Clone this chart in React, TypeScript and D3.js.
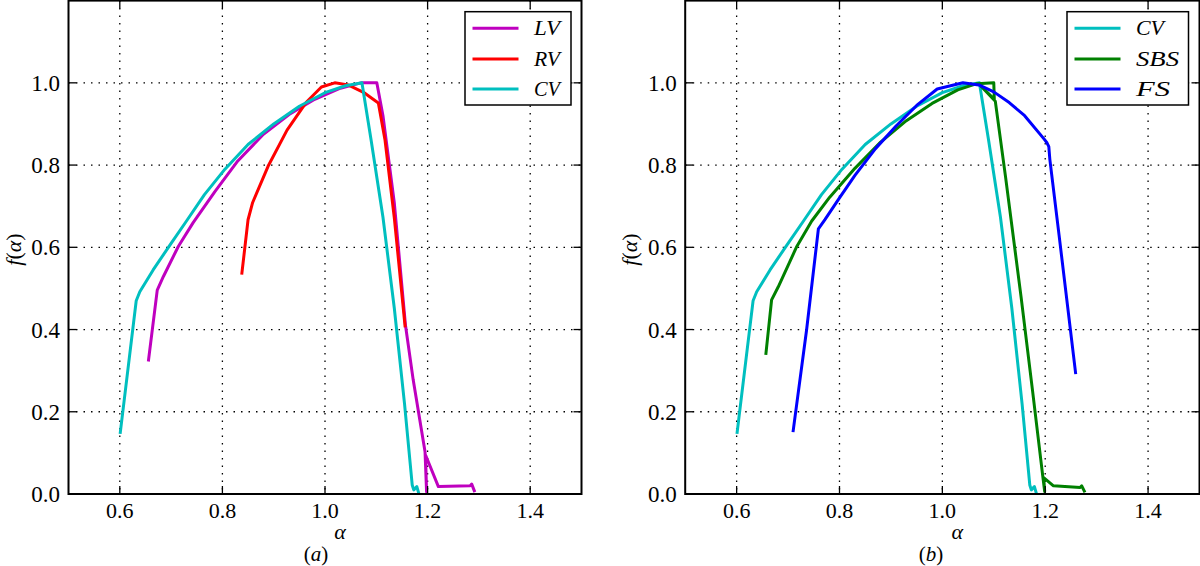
import React from 'react';
import * as d3 from 'd3';

// ---- tick definitions ----
const xTickValues = [0.6, 0.8, 1.0, 1.2, 1.4];
const xTickLabels = ['0.6', '0.8', '1.0', '1.2', '1.4'];
const yTickValues = [0.0, 0.2, 0.4, 0.6, 0.8, 1.0];
const yTickLabels = ['0.0', '0.2', '0.4', '0.6', '0.8', '1.0'];

// ---- series data (alpha, f(alpha)) ----
const cvAlpha = [0.601, 0.632, 0.639, 0.665, 0.698, 0.730, 0.765, 0.805, 0.850, 0.900, 0.950, 1.000, 1.040, 1.072, 1.090, 1.113, 1.135, 1.155, 1.170, 1.173, 1.179, 1.182];
const cvF = [0.150, 0.470, 0.492, 0.545, 0.606, 0.664, 0.728, 0.790, 0.850, 0.900, 0.943, 0.976, 0.993, 1.000, 0.860, 0.673, 0.453, 0.220, 0.022, 0.010, 0.018, 0.005];

const lvAlpha = [0.656, 0.673, 0.685, 0.714, 0.743, 0.785, 0.830, 0.880, 0.930, 0.980, 1.030, 1.070, 1.101, 1.113, 1.135, 1.157, 1.172, 1.195, 1.198, 1.196, 1.221, 1.283, 1.286, 1.291];
const lvF = [0.326, 0.496, 0.529, 0.602, 0.660, 0.735, 0.810, 0.875, 0.923, 0.960, 0.987, 1.000, 1.000, 0.920, 0.709, 0.409, 0.277, 0.103, 0.005, 0.095, 0.018, 0.020, 0.024, 0.008];

const rvAlpha = [0.838, 0.850, 0.859, 0.889, 0.926, 0.963, 0.993, 1.019, 1.045, 1.075, 1.104, 1.117, 1.135, 1.156];
const rvF = [0.537, 0.667, 0.709, 0.797, 0.885, 0.952, 0.990, 1.000, 0.995, 0.977, 0.951, 0.861, 0.673, 0.409];

const sbsAlpha = [0.657, 0.668, 0.681, 0.717, 0.746, 0.781, 0.830, 0.880, 0.930, 0.980, 1.030, 1.067, 1.100, 1.101, 1.072, 1.103, 1.123, 1.153, 1.175, 1.195, 1.199, 1.197, 1.216, 1.268, 1.271, 1.276];
const sbsF = [0.342, 0.472, 0.504, 0.602, 0.664, 0.722, 0.792, 0.856, 0.908, 0.950, 0.983, 0.998, 1.000, 0.960, 0.996, 0.955, 0.770, 0.480, 0.255, 0.046, 0.006, 0.040, 0.020, 0.016, 0.020, 0.007];

const fsAlpha = [0.710, 0.736, 0.759, 0.772, 0.800, 0.830, 0.870, 0.910, 0.950, 0.990, 1.040, 1.071, 1.100, 1.130, 1.160, 1.198, 1.203, 1.207, 1.209, 1.227, 1.259];
const fsF = [0.154, 0.399, 0.645, 0.668, 0.720, 0.775, 0.840, 0.895, 0.945, 0.985, 1.000, 0.995, 0.978, 0.952, 0.920, 0.863, 0.855, 0.845, 0.814, 0.629, 0.295];

const COLORS = { m: '#bf00bf', r: '#ff0000', c: '#00bfbf', g: '#008000', b: '#0000ff' };

type Series = { name: string; alpha: number[]; f: number[]; color: string; textLen: number };

const seriesA: Series[] = [
  { name: 'LV', alpha: lvAlpha, f: lvF, color: COLORS.m, textLen: 26 },
  { name: 'RV', alpha: rvAlpha, f: rvF, color: COLORS.r, textLen: 26 },
  { name: 'CV', alpha: cvAlpha, f: cvF, color: COLORS.c, textLen: 26 },
];
const seriesB: Series[] = [
  { name: 'CV', alpha: cvAlpha, f: cvF, color: COLORS.c, textLen: 28 },
  { name: 'SBS', alpha: sbsAlpha, f: sbsF, color: COLORS.g, textLen: 43 },
  { name: 'FS', alpha: fsAlpha, f: fsF, color: COLORS.b, textLen: 34 },
];

const FONT = "'Liberation Serif', 'DejaVu Serif', serif";
const txt = (size: number, italic = false): React.CSSProperties => ({
  fontFamily: FONT,
  fontSize: `${size}px`,
  fontStyle: italic ? 'italic' : 'normal',
});

type PanelProps = {
  left: number;
  right: number;
  series: Series[];
  legendLeft: number;
  legendRight: number;
  tag: string;
  tagX: number;
};

function Panel({ left, right, series, legendLeft, legendRight, tag, tagX }: PanelProps) {
  const top = 0.6;
  const bottom = 494;
  const xs = d3.scaleLinear().domain([0.5, 1.5]).range([left, right]);
  const ys = d3.scaleLinear().domain([0, 1.2]).range([bottom, top]);
  const line = d3
    .line<[number, number]>()
    .x((d) => xs(d[0]))
    .y((d) => ys(d[1]));
  const tickLen = 8;
  const legTop = 11.7;
  const legBottom = 105;
  const rowY = [28.3, 59, 89];
  const midX = (left + right) / 2;

  return (
    <g>
      {/* grid */}
      {xTickValues.map((v) => (
        <line key={'gx' + v} x1={xs(v)} x2={xs(v)} y1={top} y2={bottom} stroke="#000" strokeWidth={1.3} strokeDasharray="1.5,6" />
      ))}
      {yTickValues.slice(1).map((v) => (
        <line key={'gy' + v} x1={left} x2={right} y1={ys(v)} y2={ys(v)} stroke="#000" strokeWidth={1.3} strokeDasharray="1.5,6" />
      ))}
      {/* series */}
      <clipPath id={'clip' + tag}>
        <rect x={left} y={top - 1} width={right - left} height={bottom - top + 1} />
      </clipPath>
      <g clipPath={`url(#clip${tag})`}>
        {series.map((s) => (
          <path
            key={s.name}
            d={line(s.alpha.map((a, i) => [a, s.f[i]] as [number, number])) || ''}
            fill="none"
            stroke={s.color}
            strokeWidth={3}
            strokeLinejoin="round"
            strokeLinecap="square"
          />
        ))}
      </g>
      {/* ticks (inward, all sides) */}
      {xTickValues.map((v) => (
        <g key={'tx' + v}>
          <line x1={xs(v)} x2={xs(v)} y1={bottom} y2={bottom - tickLen} stroke="#000" strokeWidth={1.3} />
          <line x1={xs(v)} x2={xs(v)} y1={top} y2={top + tickLen} stroke="#000" strokeWidth={1.3} />
        </g>
      ))}
      {yTickValues.map((v) => (
        <g key={'ty' + v}>
          <line x1={left} x2={left + tickLen} y1={ys(v)} y2={ys(v)} stroke="#000" strokeWidth={1.3} />
          <line x1={right} x2={right - tickLen} y1={ys(v)} y2={ys(v)} stroke="#000" strokeWidth={1.3} />
        </g>
      ))}
      {/* frame */}
      <rect x={left} y={top} width={right - left} height={bottom - top} fill="none" stroke="#000" strokeWidth={2} />
      {/* tick labels */}
      {xTickValues.map((v, i) => (
        <text key={'lx' + v} x={xs(v)} y={517.5} textAnchor="middle" style={txt(22)} fill="#000">
          {xTickLabels[i]}
        </text>
      ))}
      {yTickValues.map((v, i) => (
        <text key={'ly' + v} x={left - 8.5} y={ys(v) + 8} textAnchor="end" style={txt(23)} fill="#000">
          {yTickLabels[i]}
        </text>
      ))}
      {/* axis labels */}
      <text x={midX + 15} y={539} textAnchor="middle" style={txt(22, true)} fill="#000">
        α
      </text>
      <text transform={`translate(${left - 48},249.5) rotate(-90)`} textAnchor="middle" style={txt(22)} fill="#000">
        <tspan style={{ fontStyle: 'italic' }}>f</tspan>(<tspan style={{ fontStyle: 'italic' }}>α</tspan>)
      </text>
      <text x={tagX} y={561} textAnchor="middle" style={txt(21)} fill="#000">
        (<tspan style={{ fontStyle: 'italic' }}>{tag}</tspan>)
      </text>
      {/* legend */}
      <rect x={legendLeft} y={legTop} width={legendRight - legendLeft} height={legBottom - legTop} fill="#fff" stroke="#000" strokeWidth={1.5} />
      {series.map((s, i) => (
        <g key={'leg' + s.name}>
          <line x1={legendLeft + 7.5} x2={legendLeft + 53.5} y1={rowY[i]} y2={rowY[i]} stroke={s.color} strokeWidth={3} />
          <text
            x={legendLeft + 69}
            y={rowY[i] + 7}
            style={txt(21, true)}
            fill="#000"
            textLength={s.textLen}
            lengthAdjust="spacingAndGlyphs"
          >
            {s.name}
          </text>
        </g>
      ))}
    </g>
  );
}

export default function App() {
  return (
    <svg
      width={1200}
      height={566}
      viewBox="0 0 1200 566"
      style={{ position: 'fixed', left: 0, top: 0, background: '#fff' }}
    >
      <rect x={0} y={0} width={1200} height={566} fill="#fff" />
      <Panel left={68.5} right={581.5} series={seriesA} legendLeft={465} legendRight={571} tag="a" tagX={316} />
      <Panel left={685.2} right={1199.5} series={seriesB} legendLeft={1067} legendRight={1188.5} tag="b" tagX={931} />
    </svg>
  );
}
